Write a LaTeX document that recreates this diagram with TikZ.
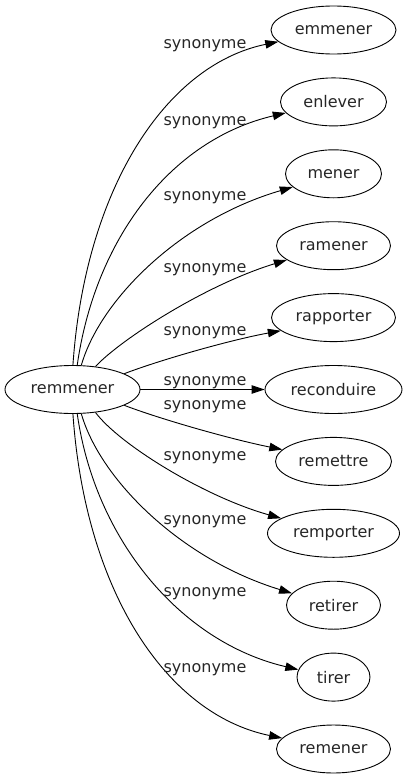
\documentclass[tikz,border=0pt]{standalone}
\usepackage{fontspec}
\setmainfont{DejaVu Sans}
\usetikzlibrary{arrows.meta,shapes.geometric}
\begin{document}
\begin{tikzpicture}[x=1pt,y=-1pt,
  every node/.style={font=\fontsize{16}{19}\selectfont, text=black!85},
  word/.style={draw, line width=0.9pt, ellipse, inner sep=0pt, minimum height=48pt},
  lab/.style={anchor=base, inner sep=0pt},
  syn/.style={draw, line width=0.9pt, -{Triangle[length=13pt,width=8.5pt]}}
]
\useasboundingbox (0,0) rectangle (409,779);
\node[word, minimum width=135pt] (rem) at (72.5,389.5) {remmener};
\node[word, minimum width=125pt] (t1) at (333.5,30) {emmener};
\node[word, minimum width=106pt] (t2) at (333.5,101.9) {enlever};
\node[word, minimum width=96pt] (t3) at (333.5,173.8) {mener};
\node[word, minimum width=114pt] (t4) at (333.5,245.7) {ramener};
\node[word, minimum width=124pt] (t5) at (333.5,317.6) {rapporter};
\node[word, minimum width=137pt] (t6) at (333.5,389.5) {reconduire};
\node[word, minimum width=116pt] (t7) at (333.5,461.4) {remettre};
\node[word, minimum width=132pt] (t8) at (333.5,533.3) {remporter};
\node[word, minimum width=94pt] (t9) at (333.5,605.2) {retirer};
\node[word, minimum width=73pt] (t10) at (333.5,677.1) {tirer};
\node[word, minimum width=114pt] (t11) at (333.5,749) {remener};

\draw[syn] (rem.89) .. controls (85,190) and (165,65) .. (t1.192);
\draw[syn] (rem.79) .. controls (95,240) and (170,140) .. (t2.193);
\draw[syn] (rem.70) .. controls (100,300) and (180,220) .. (t3.198);
\draw[syn] (rem.45) .. controls (120,340) and (205,285) .. (t4.197);
\draw[syn] (rem.17.5) .. controls (160,360) and (230,340) .. (t5.194);
\draw[syn] (rem.east) -- (t6.west);
\draw[syn] (rem.-17.5) .. controls (160,419) and (230,439) .. (t7.167);
\draw[syn] (rem.-45) .. controls (120,445) and (205,497) .. (t8.164);
\draw[syn] (rem.-70) .. controls (100,479) and (180,559) .. (t9.164);
\draw[syn] (rem.-79) .. controls (95,539) and (180,642) .. (t10.168);
\draw[syn] (rem.-89) .. controls (85,589) and (165,714) .. (t11.168);

\node[lab] (l1) at (205,48.3) {synonyme};
\node[lab] (l2) at (205,125) {synonyme};
\node[lab] (l3) at (205,200) {synonyme};
\node[lab] (l4) at (205,272.3) {synonyme};
\node[lab] (l5) at (205,335.3) {synonyme};
\node[lab] (l6) at (205,385) {synonyme};
\node[lab] (l7) at (205,409.3) {synonyme};
\node[lab] (l8) at (205,460) {synonyme};
\node[lab] (l9) at (205,524.3) {synonyme};
\node[lab] (l10) at (205,596.7) {synonyme};
\node[lab] (l11) at (205,672.7) {synonyme};
\end{tikzpicture}
\end{document}
